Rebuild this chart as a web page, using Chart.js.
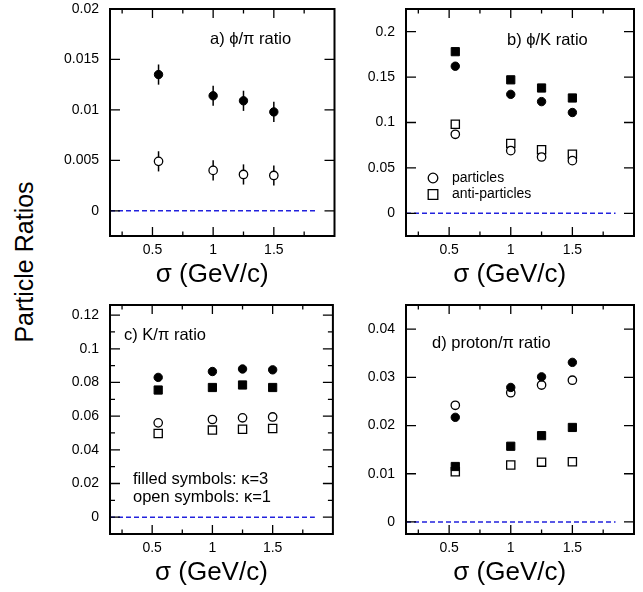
<!DOCTYPE html>
<html>
<head>
<meta charset="utf-8">
<script src="https://cdn.jsdelivr.net/npm/chart.js@4.4.1/dist/chart.umd.min.js"></script>
<style>
  html, body { margin: 0; padding: 0; background: #fff; }
  body { width: 643px; height: 592px; position: relative; overflow: hidden; font-family: "Liberation Sans", Arial, sans-serif; }
  canvas { position: absolute; }
  #ylabel { position: absolute; left: 24px; top: 262px; transform: translate(-50%, -50%) rotate(-90deg); font-size: 25px; white-space: nowrap; color: #000; }
</style>
</head>
<body>
<div id="ylabel">Particle Ratios</div>
<canvas id="panelA" width="300" height="290" style="left:40px;top:0px"></canvas>
<canvas id="panelB" width="303" height="290" style="left:340px;top:0px"></canvas>
<canvas id="panelC" width="300" height="302" style="left:40px;top:290px"></canvas>
<canvas id="panelD" width="303" height="302" style="left:340px;top:290px"></canvas>
<script>
const FONT = '"Liberation Sans", Arial, sans-serif';

// sigma values (GeV/c) shared by all panels
const sigma = [0.55, 1.0, 1.25, 1.5];
const xMajor = [0.5, 1, 1.5];
const xMinor = [0.25, 0.75, 1.25, 1.75];
const zeroLineX = [0.15, 1.85];

// a) phi/pi ratio
const phiPiK3 = [0.0135, 0.0114, 0.0109, 0.0098];
const phiPiK1 = [0.0049, 0.0040, 0.0036, 0.0035];
const phiPiErrK3 = [0.001, 0.001, 0.001, 0.001];
const phiPiErrK1 = [0.001, 0.001, 0.001, 0.001];
const phiPiTicks = [0, 0.005, 0.01, 0.015, 0.02];

// b) phi/K ratio
const phiKPartK3 = [0.162, 0.131, 0.123, 0.111];
const phiKAntiK3 = [0.178, 0.147, 0.138, 0.127];
const phiKPartK1 = [0.087, 0.069, 0.062, 0.058];
const phiKAntiK1 = [0.098, 0.077, 0.070, 0.065];
const phiKTicks = [0, 0.05, 0.1, 0.15, 0.2];

// c) K/pi ratio
const kPiPartK3 = [0.083, 0.0865, 0.088, 0.0875];
const kPiAntiK3 = [0.0755, 0.077, 0.0785, 0.077];
const kPiPartK1 = [0.056, 0.058, 0.059, 0.0595];
const kPiAntiK1 = [0.0497, 0.0517, 0.0522, 0.0527];
const kPiTicks = [0, 0.02, 0.04, 0.06, 0.08, 0.1, 0.12];
const kPiMinor = [0.01, 0.03, 0.05, 0.07, 0.09, 0.11];

// d) proton/pi ratio
const pPiPartK3 = [0.0217, 0.0279, 0.0301, 0.0331];
const pPiAntiK3 = [0.0115, 0.0157, 0.0179, 0.0196];
const pPiPartK1 = [0.0242, 0.0268, 0.0284, 0.0294];
const pPiAntiK1 = [0.0104, 0.0118, 0.0124, 0.0125];
const pPiTicks = [0, 0.01, 0.02, 0.03, 0.04];

Chart.defaults.font.family = FONT;
Chart.defaults.color = '#000';

function marker(ctx, shape, filled, x, y, r) {
  ctx.save();
  ctx.fillStyle = filled ? '#000' : '#fff';
  ctx.strokeStyle = '#000';
  ctx.lineWidth = 1.3;
  ctx.beginPath();
  if (shape === 'rect') ctx.rect(x - r, y - r, 2 * r, 2 * r);
  else ctx.arc(x, y, r, 0, Math.PI * 2);
  ctx.fill();
  ctx.stroke();
  ctx.restore();
}

function decoPlugin(p) {
  return {
    id: 'deco',
    beforeDatasetsDraw(chart) {
      if (!p.errors) return;
      const ctx = chart.ctx, xs = chart.scales.x, ys = chart.scales.y;
      ctx.save();
      ctx.strokeStyle = '#000';
      ctx.lineWidth = 1.5;
      p.errors.forEach(e => {
        sigma.forEach((x, i) => {
          const px = xs.getPixelForValue(x);
          ctx.beginPath();
          ctx.moveTo(px, ys.getPixelForValue(e.values[i] - e.err[i]));
          ctx.lineTo(px, ys.getPixelForValue(e.values[i] + e.err[i]));
          ctx.stroke();
        });
      });
      ctx.restore();
    },
    afterDraw(chart) {
      const ctx = chart.ctx, a = chart.chartArea;
      const xs = chart.scales.x, ys = chart.scales.y;
      ctx.save();
      ctx.strokeStyle = '#000';

      // inward ticks on all four sides
      ctx.lineWidth = 1.3;
      const xt = (v, len) => {
        const px = xs.getPixelForValue(v);
        ctx.beginPath();
        ctx.moveTo(px, a.bottom); ctx.lineTo(px, a.bottom - len);
        ctx.moveTo(px, a.top); ctx.lineTo(px, a.top + len);
        ctx.stroke();
      };
      const yt = (v, len) => {
        const py = ys.getPixelForValue(v);
        ctx.beginPath();
        ctx.moveTo(a.left, py); ctx.lineTo(a.left + len, py);
        ctx.moveTo(a.right, py); ctx.lineTo(a.right - len, py);
        ctx.stroke();
      };
      xMajor.forEach(v => xt(v, 9));
      xMinor.forEach(v => xt(v, 4.5));
      p.yTicks.forEach(v => yt(v, 10));
      (p.yMinor || []).forEach(v => yt(v, 5));

      // frame
      ctx.lineWidth = 2;
      ctx.strokeRect(a.left, a.top, a.right - a.left, a.bottom - a.top);

      // panel texts
      ctx.fillStyle = '#000';
      ctx.textBaseline = 'middle';
      ctx.textAlign = 'left';
      p.texts.forEach(t => {
        ctx.font = t.size + 'px ' + FONT;
        ctx.fillText(t.text, a.left + t.dx, a.top + t.dy);
      });

      // legend
      (p.legend || []).forEach(l => {
        marker(ctx, l.shape, false, a.left + l.dx, a.top + l.dy, l.r);
        ctx.font = '14px ' + FONT;
        ctx.fillStyle = '#000';
        ctx.fillText(l.text, a.left + l.dx + 19, a.top + l.dy);
      });

      // axis title
      ctx.font = '26px ' + FONT;
      ctx.textAlign = 'center';
      ctx.fillText('\u03c3 (GeV/c)', xs.getPixelForValue(1.0) - 1, a.bottom + 39);
      ctx.restore();
    }
  };
}

function noPad(s) {
  s.paddingTop = 0; s.paddingBottom = 0; s.paddingLeft = 0; s.paddingRight = 0;
}

function makePanel(canvasId, p) {
  const datasets = p.series.map(s => ({
    type: 'scatter',
    data: sigma.map((x, i) => ({ x: x, y: s.values[i] })),
    pointStyle: s.shape,
    pointRadius: s.shape === 'rect' ? 5.8 : 4.2,
    pointBorderWidth: s.filled ? 1 : 1.3,
    pointBackgroundColor: s.filled ? '#000' : '#fff',
    pointBorderColor: '#000',
    showLine: false
  }));
  // dashed zero line, listed last so it is drawn underneath
  datasets.push({
    type: 'line',
    data: zeroLineX.map(x => ({ x: x, y: 0 })),
    borderColor: '#2222dd',
    borderWidth: 1.5,
    borderDash: [5, 3],
    pointRadius: 0,
    fill: false
  });

  new Chart(document.getElementById(canvasId), {
    type: 'scatter',
    data: { datasets: datasets },
    options: {
      responsive: false,
      animation: false,
      events: [],
      layout: { padding: p.padding },
      plugins: { legend: { display: false }, tooltip: { enabled: false } },
      scales: {
        x: {
          type: 'linear',
          min: 0.15,
          max: 2.0,
          afterBuildTicks: s => { s.ticks = xMajor.map(v => ({ value: v })); },
          afterFit: s => { s.height = p.xAxisHeight; noPad(s); },
          grid: { display: false, drawTicks: false },
          border: { display: false },
          ticks: { padding: 6, font: { size: 14 }, color: '#000', maxRotation: 0, autoSkip: false, callback: v => String(v) }
        },
        y: {
          type: 'linear',
          min: p.yMin,
          max: p.yMax,
          afterBuildTicks: s => { s.ticks = p.yTicks.map(v => ({ value: v })); },
          afterFit: s => { s.width = p.yAxisWidth; noPad(s); },
          grid: { display: false, drawTicks: false },
          border: { display: false },
          ticks: { padding: 11, font: { size: 14 }, color: '#000', autoSkip: false, callback: v => String(v) }
        }
      }
    },
    plugins: [decoPlugin(p)]
  });
}

makePanel('panelA', {
  yMin: -0.0025, yMax: 0.02, yTicks: phiPiTicks,
  yAxisWidth: 70, xAxisHeight: 54,
  padding: { top: 9, right: 2, left: 0, bottom: 0 },
  series: [
    { values: phiPiK3, shape: 'circle', filled: true },
    { values: phiPiK1, shape: 'circle', filled: false }
  ],
  errors: [
    { values: phiPiK3, err: phiPiErrK3 },
    { values: phiPiK1, err: phiPiErrK1 }
  ],
  texts: [{ text: 'a) \u03d5/\u03c0 ratio', size: 16.5, dx: 100, dy: 30 }]
});

makePanel('panelB', {
  yMin: -0.025, yMax: 0.225, yTicks: phiKTicks,
  yAxisWidth: 66, xAxisHeight: 54,
  padding: { top: 9, right: 9, left: 0, bottom: 0 },
  series: [
    { values: phiKAntiK3, shape: 'rect', filled: true },
    { values: phiKPartK3, shape: 'circle', filled: true },
    { values: phiKPartK1, shape: 'circle', filled: false },
    { values: phiKAntiK1, shape: 'rect', filled: false }
  ],
  texts: [{ text: 'b) \u03d5/K ratio', size: 16.5, dx: 101, dy: 31 }],
  legend: [
    { shape: 'circle', text: 'particles', dx: 27, dy: 169, r: 4.8 },
    { shape: 'rect', text: 'anti-particles', dx: 27, dy: 185.5, r: 4.8 }
  ]
});

makePanel('panelC', {
  yMin: -0.01, yMax: 0.126, yTicks: kPiTicks, yMinor: kPiMinor,
  yAxisWidth: 70, xAxisHeight: 58,
  padding: { top: 15, right: 2, left: 0, bottom: 0 },
  series: [
    { values: kPiPartK3, shape: 'circle', filled: true },
    { values: kPiAntiK3, shape: 'rect', filled: true },
    { values: kPiPartK1, shape: 'circle', filled: false },
    { values: kPiAntiK1, shape: 'rect', filled: false }
  ],
  texts: [
    { text: 'c) K/\u03c0 ratio', size: 16.5, dx: 14, dy: 30 },
    { text: 'filled symbols: \u03ba=3', size: 16.5, dx: 23, dy: 174 },
    { text: 'open symbols: \u03ba=1', size: 16.5, dx: 23, dy: 192 }
  ]
});

makePanel('panelD', {
  yMin: -0.0025, yMax: 0.045, yTicks: pPiTicks,
  yAxisWidth: 66, xAxisHeight: 58,
  padding: { top: 15, right: 9, left: 0, bottom: 0 },
  series: [
    { values: pPiPartK3, shape: 'circle', filled: true },
    { values: pPiAntiK3, shape: 'rect', filled: true },
    { values: pPiPartK1, shape: 'circle', filled: false },
    { values: pPiAntiK1, shape: 'rect', filled: false }
  ],
  texts: [{ text: 'd) proton/\u03c0 ratio', size: 16.5, dx: 26, dy: 38 }]
});
</script>
</body>
</html>
